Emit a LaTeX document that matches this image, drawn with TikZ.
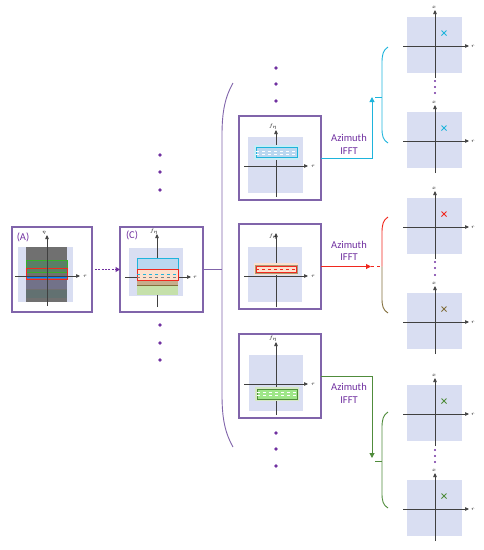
\documentclass[tikz,border=0pt]{standalone}
\usepackage{fontspec}
\newfontfamily\carl{Carlito}
\usetikzlibrary{arrows.meta}
\definecolor{framepurple}{RGB}{128,100,170}
\definecolor{txtpurple}{RGB}{112,48,160}
\definecolor{bgblue}{RGB}{217,222,242}
\definecolor{cyanc}{RGB}{30,180,220}
\definecolor{redc}{RGB}{240,40,30}
\definecolor{greenc}{RGB}{80,140,60}
\definecolor{olivec}{RGB}{130,110,60}
\definecolor{axisgray}{RGB}{64,64,64}
\definecolor{lcyan}{RGB}{185,215,240}
\definecolor{peach}{RGB}{252,224,205}
\definecolor{lgreen}{RGB}{197,224,170}
\definecolor{grayfill}{RGB}{112,112,112}
\begin{document}
\begin{tikzpicture}[x=1pt,y=-1pt,
  frame/.style={draw=framepurple,line width=1.2pt,inner sep=0pt,outer sep=0pt},
  bg/.style={fill=bgblue},
  axis/.style={draw=axisgray,line width=0.6pt,-{Triangle[length=4pt,width=3.5pt]}},
  axlab/.style={font=\fontsize{5.5}{6.5}\selectfont,inner sep=0.5pt},
  ifft/.style={font=\carl\fontsize{10.5}{12.5}\selectfont,text=txtpurple,align=center},
  bigdot/.style={fill=txtpurple,draw=none},
  boxlab/.style={font=\carl\fontsize{10.5}{12}\selectfont,text=txtpurple}]
\useasboundingbox (0,0) rectangle (484,550);

% ---------- Box A ----------
\node[frame,minimum width=80pt,minimum height=85pt] (boxA) at (52,269.5) {};
\fill[bgblue] (18,247) rectangle (73,302);
\fill[grayfill] (26,247) rectangle (67,302);
\fill[green!50!teal,opacity=0.2] (26,260) rectangle (67,272);
\draw[greenc!70!green,line width=0.7pt] (26,260) rectangle (67,272);
\fill[blue!50,opacity=0.18] (26,277) rectangle (67,289);
\draw[blue!50!cyan,line width=0.5pt] (26,277) -- (67,277);
\fill[teal,opacity=0.12] (26,290) rectangle (67,298);
\draw[redc,line width=0.7pt] (26,268) rectangle (67,279);
\draw[axis] (47,306) -- (47,235);
\draw[axis] (15,276) -- (80,276);
\node[axlab] at (44,233) {$\eta$};
\node[axlab] at (85,276) {$\tau$};
\node[boxlab] at (23,237) {(A)};

% ---------- Box C ----------
\node[frame,minimum width=83pt,minimum height=85pt] (boxC) at (161.5,269.5) {};
\fill[bgblue] (129,248) rectangle (183,296);
\draw[axis] (157,307) -- (157,234);
\draw[axis] (125,277) -- (191,277);
\draw[cyanc,fill=lcyan,line width=0.6pt] (137,258) rectangle (178,269);
\fill[lgreen] (137,285) rectangle (178,295);
\fill[olivec!45!peach] (137,280) rectangle (178,285);
\draw[olivec,line width=0.6pt] (137,280) -- (178,280) (137,285) -- (178,285);
\draw[redc,fill=peach,line width=0.8pt] (137,269) rectangle (178,280);
\draw[cyanc,dashed,line width=0.6pt] (137,274) -- (178,274);
\draw[gray,dashed,line width=0.6pt] (137,277.5) -- (178,277.5);
\node[axlab] at (154,232) {$f_\eta$};
\node[axlab] at (195,277) {$\tau$};
\node[boxlab] at (132,235) {(C)};

\draw[txtpurple,dash pattern=on 2pt off 1.3pt,line width=1.5pt,shorten <=3pt,-{Triangle[length=4.5pt,width=5pt]}] (boxA.east) -- (boxC.west);

% dots around C
\foreach \y in {155,172,190,325,343,360} \fill[bigdot] (160,\y) circle (1.9);

% ---------- big bracket ----------
\coordinate (brTop) at (233,83);
\coordinate (brBot) at (233,447);
\coordinate (brMid) at (222,269.5);
\draw[framepurple,line width=0.9pt] (brTop) .. controls (225,97) and (222,112) .. (222,135) -- (222,395) .. controls (222,418) and (225,433) .. (brBot);
\draw[framepurple,line width=0.9pt] (boxC.east) -- (brMid);

% ---------- middle boxes ----------
\node[frame,minimum width=82pt,minimum height=84pt] (boxT) at (280,158) {};
\node[frame,minimum width=82pt,minimum height=85pt] (boxM) at (280,266.5) {};
\node[frame,minimum width=82pt,minimum height=84pt] (boxB) at (280,376) {};

% top
\fill[bgblue] (248,137) rectangle (303,193);
\draw[axis] (276,197) -- (276,130);
\draw[axis] (244,166) -- (308,166);
\fill[cyanc!25] (254,145) rectangle (299,160);
\draw[cyanc,fill=lcyan,line width=0.7pt] (256,147.5) rectangle (297,157.5);
\draw[white,dashed,line width=0.5pt] (256,151) -- (297,151) (256,154) -- (297,154);
\node[axlab] at (273,127) {$f_\eta$};
\node[axlab] at (313,166) {$\tau$};

% middle
\fill[bgblue] (248,247) rectangle (302,302);
\draw[axis] (276,307) -- (276,233);
\draw[axis] (244,276) -- (308,276);
\fill[peach] (254,263) rectangle (298,275);
\draw[olivec!70,line width=0.4pt] (255,265) rectangle (297,273);
\draw[redc,line width=0.5pt] (256,266) rectangle (296,272);
\draw[redc,dashed,line width=0.4pt] (256,269) -- (296,269);
\node[axlab] at (273,237) {$f_\eta$};
\node[axlab] at (313,276) {$\tau$};

% bottom
\fill[bgblue] (249,355) rectangle (303,411);
\draw[axis] (276,415) -- (276,342);
\draw[axis] (244,384) -- (308,384);
\fill[lgreen!70] (255,387) rectangle (299,401);
\draw[greenc,fill=lgreen!80!green,line width=0.7pt] (257,389) rectangle (297,399);
\draw[white,dashed,line width=0.5pt] (257,392.5) -- (297,392.5) (257,395.5) -- (297,395.5);
\node[axlab] at (273,339) {$f_\eta$};
\node[axlab] at (313,384) {$\tau$};

% dots above and below
\foreach \y in {68,84,101,433,449,466} \fill[bigdot] (276,\y) circle (1.9);

% Azimuth IFFT labels
\node[ifft] (lT) at (349,144.5) {Azimuth\\IFFT};
\node[ifft] (lM) at (349,251) {Azimuth\\IFFT};
\node[ifft] (lB) at (349,393.5) {Azimuth\\IFFT};

% ---------- arrows ----------
\coordinate (cT) at (372,97);
\coordinate (cM) at (371,266.5);
\coordinate (cB) at (372,458);
\draw[cyanc,line width=1pt,-{Triangle[length=5pt,width=5pt]}] (boxT.east) -| (cT);
\draw[redc,line width=1pt,-{Triangle[length=5pt,width=5pt]}] (boxM.east) -- (cM);
\draw[greenc,line width=1pt,-{Triangle[length=5pt,width=5pt]}] (boxB.east) -| (cB);

% small braces
\coordinate (tkT) at (382,97);
\coordinate (tkM) at (382,266.5);
\coordinate (tkB) at (382,461);
\draw[cyanc,line width=0.9pt] (388,47) .. controls (383,50) and (382,55) .. (382,63) -- (382,128) .. controls (382,136) and (383,140) .. (388,143);
\draw[cyanc,line width=0.9pt] (375,97) -- (tkT);
\draw[redc,line width=0.9pt] (388,217) .. controls (383,220) and (382,225) .. (382,233) -- (382,266.5);
\draw[olivec,line width=0.9pt] (382,266.5) -- (382,298) .. controls (382,306) and (383,310) .. (388,313);
\draw[redc,dashed,line width=0.9pt] (cM) -- (tkM);
\draw[greenc,line width=0.9pt] (388,412) .. controls (383,415) and (382,420) .. (382,428) -- (382,493) .. controls (382,501) and (383,505) .. (388,508);
\draw[greenc,line width=0.9pt] (375,461) -- (tkB);

% ---------- right panels ----------
\foreach \t/\c in {17/cyanc,112/cyanc,198/redc,293/olivec,385/greenc,480/greenc}{
  \fill[bgblue] (407,\t) rectangle (462,\t+56);
  \draw[axis] (435,\t+61) -- (435,\t-7);
  \draw[axis] (403,\t+29) -- (469,\t+29);
  \node[axlab] at (434,\t-10) {$x$};
  \node[axlab] at (473,\t+29) {$r$};
  \draw[\c,line width=0.8pt] (441.5,\t+13.5) -- (446.5,\t+18.5) (441.5,\t+18.5) -- (446.5,\t+13.5);
}
\foreach \y in {81,87,93,262,268,275,450,456,462} \fill[txtpurple] (435,\y) circle (1.1);
\end{tikzpicture}
\end{document}
